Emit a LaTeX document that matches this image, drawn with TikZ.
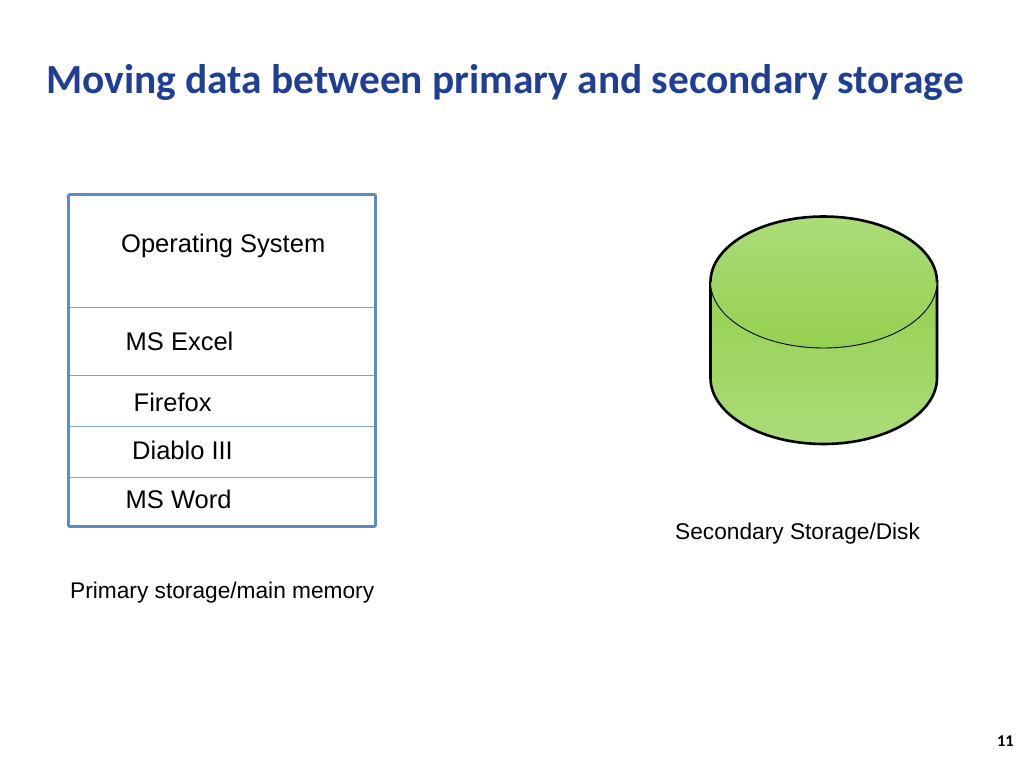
\documentclass[tikz,border=0pt]{standalone}
\usepackage{fontspec}
\setmainfont{Liberation Sans}
\newfontfamily\titlefont{Carlito}
\definecolor{titleblue}{HTML}{1F3F94}
\definecolor{boxblue}{HTML}{5B8DBF}
\definecolor{lineblue}{HTML}{7FA3CC}
\definecolor{diskdark}{HTML}{96D050}
\definecolor{disklight}{HTML}{ABDC78}
\begin{document}
\begin{tikzpicture}[x=1pt,y=-1pt,
 lbl/.style={inner sep=0pt,anchor=west,font=\fontsize{25.5}{28}\selectfont},
 captxt/.style={inner sep=0pt,anchor=west,font=\fontsize{22.7}{26}\selectfont}]
\useasboundingbox[fill=white] (0,0) rectangle (1024,768);
\node[inner sep=0pt,anchor=west,text=titleblue,font=\titlefont\bfseries\fontsize{41.4}{44}\selectfont] (title) at (46,82.5) {Moving data between primary and secondary storage};
\draw[lineblue,line width=1pt] (68.5,307) -- (375,307) (68.5,375.5) -- (375,375.5) (68.5,426.5) -- (375,426.5) (68.5,477.5) -- (375,477.5);
\draw[boxblue,line width=2.6pt,rounded corners=1pt] (68.5,194.5) rectangle (375.5,526.5);
\node[lbl] (os) at (121,246) {Operating System};
\node[lbl] (xl) at (125.5,341.5) {MS Excel};
\node[lbl] (ff) at (133.5,402.5) {Firefox};
\node[lbl] (d3) at (132,450.5) {Diablo III};
\node[lbl] (wd) at (125.5,499.5) {MS Word};
\node[captxt] (pm) at (70,593) {Primary storage/main memory};
\node[captxt] (sd) at (675,534) {Secondary Storage/Disk};
\node[inner sep=0pt,anchor=east,font=\titlefont\bfseries\fontsize{16.5}{18}\selectfont] (pg) at (1014,741) {11};
% body
\path[top color=diskdark,bottom color=disklight,draw=black,line width=2.6pt] (710.5,282) -- (710.5,378) .. controls (710.5,414) and (761,444) .. (823.5,444) .. controls (886,444) and (937,414) .. (937,378) -- (937,282) -- cycle;
% top ellipse
\path[top color=disklight,bottom color=diskdark,draw=black,line width=.9pt] (710.5,282) .. controls (710.5,318) and (761,348) .. (823.5,348) .. controls (886,348) and (937,318) .. (937,282) .. controls (937,246) and (886,216.5) .. (823.5,216.5) .. controls (761,216.5) and (710.5,246) .. (710.5,282) -- cycle;
\draw[black,line width=2.6pt] (710.5,282) .. controls (710.5,246) and (761,216.5) .. (823.5,216.5) .. controls (886,216.5) and (937,246) .. (937,282);
\end{tikzpicture}
\end{document}
